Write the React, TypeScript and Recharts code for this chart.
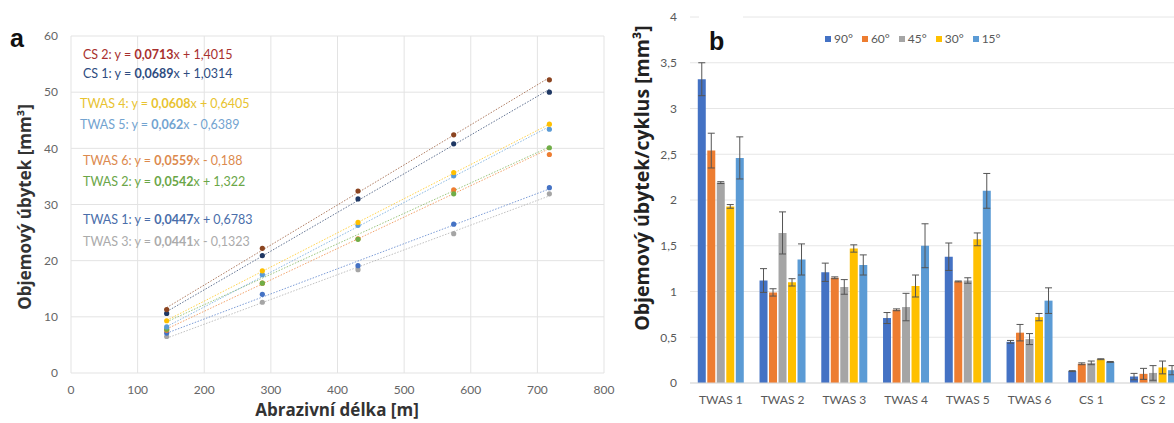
import React from 'react';
import {
  ComposedChart,
  Scatter,
  ReferenceLine,
  BarChart,
  Bar,
  ErrorBar,
  XAxis,
  YAxis,
  CartesianGrid,
  Legend,
} from 'recharts';

// ---- panel a: cumulative volume loss vs. abrasive length
const lengths = [143.6, 287.2, 430.8, 574.4, 718];
const cs2 = [11.3, 22.2, 32.4, 42.4, 52.2];
const cs1 = [10.6, 20.9, 31.0, 40.8, 50.0];
const twas4 = [9.3, 18.2, 26.8, 35.7, 44.3];
const twas5 = [8.2, 17.5, 26.3, 35.1, 43.4];
const twas6 = [7.6, 16.0, 23.9, 32.6, 38.9];
const twas2 = [7.8, 16.0, 23.8, 31.9, 40.1];
const twas1 = [7.1, 14.0, 19.1, 26.5, 33.0];
const twas3 = [6.5, 12.6, 18.4, 24.8, 31.9];

// trend line coefficients as printed on the chart
const slopes = [0.0713, 0.0689, 0.0608, 0.062, 0.0559, 0.0542, 0.0447, 0.0441];
const intercepts = [1.4015, 1.0314, 0.6405, -0.6389, -0.188, 1.322, 0.6783, -0.1323];
const seriesNames = ['CS 2', 'CS 1', 'TWAS 4', 'TWAS 5', 'TWAS 6', 'TWAS 2', 'TWAS 1', 'TWAS 3'];
const slopeLabels = ['0,0713', '0,0689', '0,0608', '0,062', '0,0559', '0,0542', '0,0447', '0,0441'];
const interceptLabels = ['+ 1,4015', '+ 1,0314', '+ 0,6405', '- 0,6389', '- 0,188', '+ 1,322', '+ 0,6783', '- 0,1323'];
const seriesValues = [cs2, cs1, twas4, twas5, twas6, twas2, twas1, twas3];

const xTicks = [0, 100, 200, 300, 400, 500, 600, 700, 800];
const yTicksA = [0, 10, 20, 30, 40, 50, 60];

// ---- panel b: volume loss per cycle by impact angle
const groups = ['TWAS 1', 'TWAS 2', 'TWAS 3', 'TWAS 4', 'TWAS 5', 'TWAS 6', 'CS 1', 'CS 2'];
const angles = ['90°', '60°', '45°', '30°', '15°'];
const loss90 = [3.32, 1.12, 1.21, 0.71, 1.38, 0.45, 0.13, 0.07];
const loss60 = [2.54, 0.99, 1.15, 0.8, 1.11, 0.55, 0.21, 0.1];
const loss45 = [2.19, 1.64, 1.05, 0.83, 1.12, 0.48, 0.22, 0.11];
const loss30 = [1.93, 1.1, 1.47, 1.06, 1.57, 0.72, 0.26, 0.17];
const loss15 = [2.46, 1.35, 1.29, 1.5, 2.1, 0.9, 0.23, 0.14];
const err90 = [0.18, 0.13, 0.1, 0.06, 0.15, 0.015, 0.005, 0.035];
const err60 = [0.19, 0.04, 0.01, 0.01, 0.005, 0.09, 0.01, 0.06];
const err45 = [0.01, 0.23, 0.08, 0.15, 0.03, 0.06, 0.02, 0.08];
const err30 = [0.02, 0.04, 0.04, 0.12, 0.07, 0.04, 0.005, 0.07];
const err15 = [0.23, 0.17, 0.11, 0.24, 0.19, 0.14, 0.005, 0.05];
const yTicksB = [0, 0.5, 1, 1.5, 2, 2.5, 3, 3.5, 4];

const lossByAngle = [loss90, loss60, loss45, loss30, loss15];
const errByAngle = [err90, err60, err45, err30, err15];

const barRows = groups.map((g, i) => {
  const row: Record<string, string | number> = { group: g };
  angles.forEach((_, k) => {
    row['v' + k] = lossByAngle[k][i];
    row['e' + k] = errByAngle[k][i];
  });
  return row;
});

// styling
const pointColors = ['#8B4420', '#1F3864', '#FFC000', '#5B9BD5', '#ED7D31', '#70AD47', '#4472C4', '#A5A5A5'];
const textColors = ['#A8302E', '#2E4C80', '#E8C330', '#72A3D0', '#DC8A4E', '#6AA647', '#4A6EAA', '#ABABAB'];
const labelPos = [
  [83, 59], [83, 77.5], [80, 107.5], [80, 128.5], [83, 165], [83, 186], [83, 224], [83, 246],
];
const barColors = ['#4472C4', '#ED7D31', '#A5A5A5', '#FFC000', '#5B9BD5'];
const drawOrder = [7, 6, 4, 5, 3, 2, 1, 0];

const comma = (v: number) => String(v).replace('.', ',');

const AngleLegend = ({ payload }: any) => {
  const items = [...(payload || [])].sort(
    (a: any, b: any) => angles.indexOf(a.value) - angles.indexOf(b.value)
  );
  return (
    <div style={{ display: 'flex', fontSize: 12, lineHeight: '16px', color: '#595959' }}>
      {items.map((p: any) => (
        <span key={p.value} style={{ display: 'flex', alignItems: 'center', marginRight: 9 }}>
          <span style={{ width: 6, height: 6, background: p.color, marginRight: 3 }} />
          {p.value}
        </span>
      ))}
    </div>
  );
};

const dot = (color: string) => (p: any) => <circle cx={p.cx} cy={p.cy} r={2.6} fill={color} />;

export default function App() {
  return (
    <div
      style={{
        position: 'absolute',
        left: 0,
        top: 0,
        width: 1174,
        height: 423,
        overflow: 'hidden',
        background: '#fff',
        fontFamily: 'Lato, sans-serif',
      }}
    >
      <div style={{ position: 'absolute', left: 0, top: 0 }}>
        <ComposedChart width={620} height={423} margin={{ top: 36, right: 16, bottom: 20, left: 11 }}>
          <CartesianGrid stroke="#e3e3e3" />
          <XAxis
            type="number"
            dataKey="x"
            domain={[0, 800]}
            ticks={xTicks}
            axisLine={false}
            tickLine={false}
            tickMargin={6}
            height={30}
            tick={{ fontSize: 12, fill: '#666' }}
          />
          <YAxis
            type="number"
            dataKey="y"
            domain={[0, 60]}
            ticks={yTicksA}
            axisLine={false}
            tickLine={false}
            tickMargin={7}
            width={60}
            tick={{ fontSize: 12, fill: '#666' }}
          />
          {drawOrder.map((s) => (
            <ReferenceLine
              key={'t' + s}
              segment={[
                { x: lengths[0], y: slopes[s] * lengths[0] + intercepts[s] },
                { x: lengths[4], y: slopes[s] * lengths[4] + intercepts[s] },
              ]}
              stroke={pointColors[s]}
              strokeOpacity={0.7}
              strokeDasharray="1.5 1.5"
              strokeWidth={1}
            />
          ))}
          {drawOrder.map((s) => (
            <Scatter
              key={'s' + s}
              name={seriesNames[s]}
              data={lengths.map((x, i) => ({ x, y: seriesValues[s][i] }))}
              shape={dot(pointColors[s])}
              isAnimationActive={false}
            />
          ))}
        </ComposedChart>
      </div>

      <div style={{ position: 'absolute', left: 620, top: 0 }}>
        <BarChart
          width={564}
          height={423}
          data={barRows}
          margin={{ top: 17, right: 0, bottom: 10, left: 10 }}
          barCategoryGap="12.6%"
          barGap={1.5}
        >
          <CartesianGrid vertical={false} stroke="#e6e6e6" />
          <XAxis
            dataKey="group"
            axisLine={{ stroke: '#d9d9d9' }}
            tickLine={false}
            tickMargin={6}
            height={30}
            interval={0}
            tick={{ fontSize: 12, fill: '#595959' }}
          />
          <YAxis
            domain={[0, 4]}
            ticks={yTicksB}
            axisLine={false}
            tickLine={false}
            tickMargin={7}
            width={60}
            tickFormatter={comma}
            tick={{ fontSize: 12, fill: '#595959' }}
          />
          <Legend
            layout="horizontal"
            verticalAlign="middle"
            align="center"
            content={<AngleLegend />}
            wrapperStyle={{ top: 31, left: 205, width: 220, height: 16 }}
          />
          {angles.map((a, k) => (
            <Bar key={a} dataKey={'v' + k} name={a} fill={barColors[k]} isAnimationActive={false}>
              <ErrorBar dataKey={'e' + k} width={3.5} stroke="#555" strokeWidth={1} direction="y" />
            </Bar>
          ))}
        </BarChart>
      </div>

      <svg
        width={1174}
        height={423}
        style={{ position: 'absolute', left: 0, top: 0, pointerEvents: 'none' }}
      >
        <text x={10} y={47} fontFamily="Liberation Sans, Arial, sans-serif" fontWeight="bold" fontSize={25} fill="#111">
          a
        </text>
        {seriesNames.map((n, s) => (
          <text key={n} x={labelPos[s][0]} y={labelPos[s][1]} fontSize={12.5} fill={textColors[s]}>
            {n}: y = <tspan fontWeight="bold">{slopeLabels[s]}</tspan>x {interceptLabels[s]}
          </text>
        ))}
        <text
          x={31}
          y={207}
          transform="rotate(-90 31 207)"
          textAnchor="middle"
          fontFamily="Open Sans, sans-serif"
          fontWeight="bold"
          fontSize={17}
          fill="#333"
        >
          Objemový úbytek [mm³]
        </text>
        <text
          x={337}
          y={416}
          textAnchor="middle"
          fontFamily="Open Sans, sans-serif"
          fontWeight="bold"
          fontSize={17}
          fill="#333"
        >
          Abrazivní délka [m]
        </text>

        <rect x={699} y={12} width={44} height={46} fill="#fff" />
        <text x={709} y={50} fontFamily="Liberation Sans, Arial, sans-serif" fontWeight="bold" fontSize={25} fill="#111">
          b
        </text>
        <text
          x={649}
          y={178}
          transform="rotate(-90 649 178)"
          textAnchor="middle"
          fontFamily="Open Sans, sans-serif"
          fontWeight="bold"
          fontSize={19.5}
          fill="#222"
        >
          Objemový úbytek/cyklus [mm³]
        </text>
      </svg>
    </div>
  );
}
